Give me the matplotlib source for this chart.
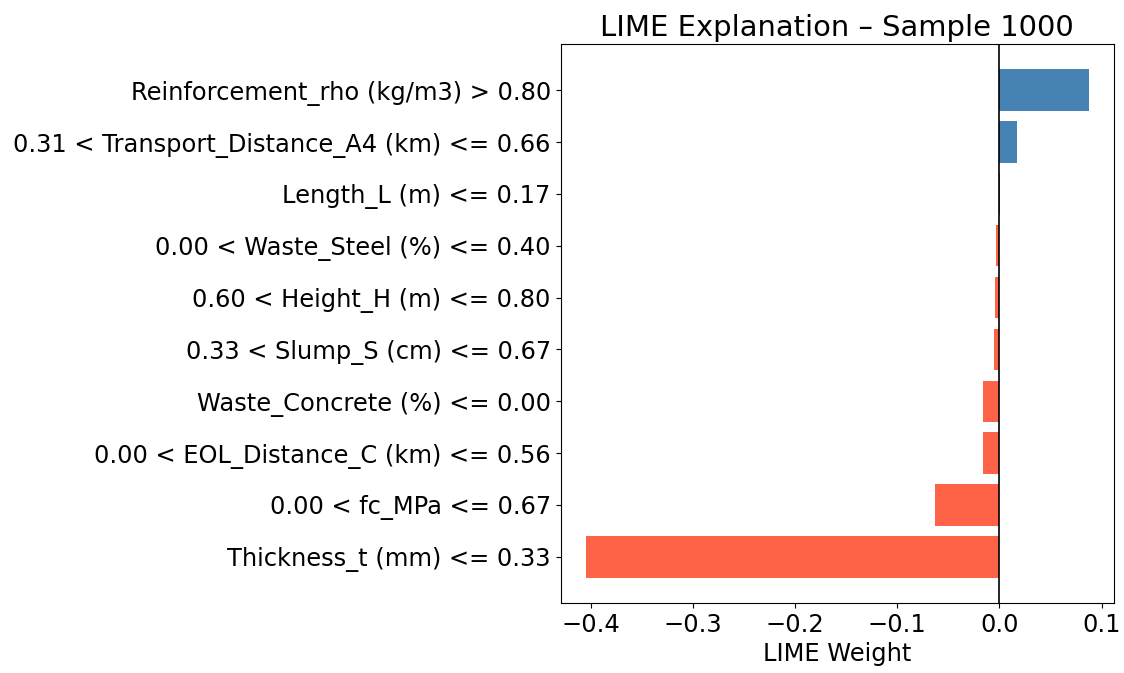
import matplotlib
matplotlib.use("Agg")
import matplotlib.pyplot as plt

features = [
    "Reinforcement_rho (kg/m3) > 0.80",
    "0.31 < Transport_Distance_A4 (km) <= 0.66",
    "Length_L (m) <= 0.17",
    "0.00 < Waste_Steel (%) <= 0.40",
    "0.60 < Height_H (m) <= 0.80",
    "0.33 < Slump_S (cm) <= 0.67",
    "Waste_Concrete (%) <= 0.00",
    "0.00 < EOL_Distance_C (km) <= 0.56",
    "0.00 < fc_MPa <= 0.67",
    "Thickness_t (mm) <= 0.33",
]
weights = [0.0875, 0.017, 0.0003, -0.0036, -0.0045, -0.0055, -0.016, -0.016, -0.063, -0.405]

fs = 17.4
fig = plt.figure(figsize=(11.24, 6.73), dpi=100)
ax = fig.add_axes([560.5/1124, 1-603/673, (1114-560.5)/1124, (603-44)/673])

names = features[::-1]
vals = weights[::-1]
colors = ["steelblue" if v > 0 else "tomato" for v in vals]
pos = list(range(len(vals)))
ax.barh(pos, vals, color=colors, height=0.8)
ax.set_yticks(pos)
ax.set_yticklabels(names, fontsize=fs)
ax.tick_params(axis="x", labelsize=fs)
ax.axvline(0, color="black", linewidth=1.2)
ax.set_xlabel("LIME Weight", fontsize=fs)
ax.set_title("LIME Explanation \u2013 Sample 1000", fontsize=20.9)

fig.savefig("out.png", dpi=100)
